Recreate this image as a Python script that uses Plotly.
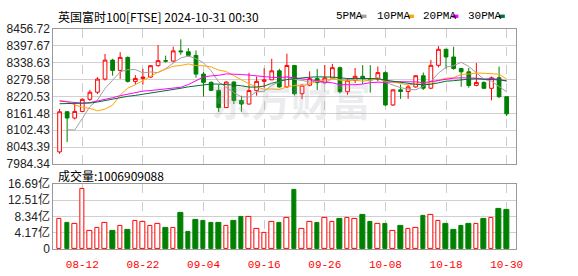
import plotly.graph_objects as go

# ---------------- data ----------------
dates = ["08-07", "08-08", "08-09", "08-12", "08-13", "08-14", "08-15", "08-16", "08-19", "08-20",
         "08-21", "08-22", "08-23", "08-27", "08-28", "08-29", "08-30", "09-02", "09-03", "09-04",
         "09-05", "09-06", "09-09", "09-10", "09-11", "09-12", "09-13", "09-16", "09-17", "09-18",
         "09-19", "09-20", "09-23", "09-24", "09-25", "09-26", "09-27", "09-30", "10-01", "10-02",
         "10-03", "10-04", "10-07", "10-08", "10-09", "10-10", "10-11", "10-14", "10-15", "10-16",
         "10-17", "10-18", "10-21", "10-22", "10-23", "10-24", "10-25", "10-28", "10-29", "10-30"]

open_ = [8026.7, 8166.9, 8145.0, 8168.1, 8210.3, 8235.2, 8281.1, 8347.4, 8311.4, 8356.9,
         8273.1, 8283.4, 8288.0, 8327.8, 8345.5, 8343.9, 8379.6, 8376.6, 8363.8, 8298.5,
         8269.6, 8241.7, 8181.5, 8270.8, 8206.0, 8193.9, 8241.0, 8273.1, 8278.4, 8309.9,
         8253.7, 8328.7, 8230.0, 8259.7, 8282.8, 8268.7, 8284.9, 8320.8, 8237.0, 8276.7,
         8290.9, 8282.5, 8280.6, 8303.6, 8190.6, 8243.5, 8237.7, 8253.7, 8292.7, 8249.3,
         8329.1, 8385.1, 8358.3, 8318.2, 8306.5, 8258.9, 8269.4, 8248.8, 8285.7, 8219.6]
high = [8177, 8170, 8201, 8214, 8244, 8288, 8369, 8352, 8375, 8360,
        8295, 8317, 8330, 8400, 8363, 8394, 8420, 8389, 8381, 8306,
        8273, 8262, 8273, 8273, 8223, 8303, 8290, 8319, 8352, 8317,
        8370, 8330, 8262, 8308, 8317, 8330, 8334, 8325, 8284, 8320,
        8330, 8330, 8325, 8308, 8246, 8262, 8262, 8295, 8304, 8348,
        8396, 8387, 8394, 8320, 8320, 8337, 8273, 8290, 8325, 8221]
low = [8020, 8061, 8140, 8165, 8205, 8229, 8276, 8293, 8282, 8269,
       8262, 8262, 8286, 8325, 8339, 8340, 8366, 8359, 8286, 8220,
       8240, 8166, 8180, 8194, 8167, 8192, 8223, 8251, 8278, 8251,
       8250, 8224, 8211, 8256, 8243, 8265, 8282, 8231, 8226, 8267,
       8264, 8234, 8273, 8187, 8187, 8212, 8212, 8251, 8243, 8246,
       8322, 8317, 8314, 8254, 8251, 8256, 8246, 8207, 8215, 8152]
close = [8166.9, 8145.0, 8168.1, 8210.3, 8235.2, 8281.1, 8347.4, 8311.4, 8356.9, 8273.1,
         8283.4, 8288.0, 8327.8, 8345.5, 8343.9, 8379.6, 8376.6, 8363.8, 8298.5, 8269.6,
         8241.7, 8181.5, 8270.8, 8206.0, 8193.9, 8241.0, 8273.1, 8278.4, 8309.9, 8253.7,
         8328.7, 8230.0, 8259.7, 8282.8, 8268.7, 8284.9, 8320.8, 8237.0, 8276.7, 8290.9,
         8282.5, 8280.6, 8303.6, 8190.6, 8243.5, 8237.7, 8253.7, 8292.7, 8249.3, 8329.1,
         8385.1, 8358.3, 8318.2, 8306.5, 8258.9, 8269.4, 8248.8, 8285.7, 8219.6, 8159.6]

volume = [762000000, 682000000, 650000000, 1548000000, 457000000, 537000000, 674000000, 465000000, 585000000, 489000000,
          730000000, 706000000, 585000000, 634000000, 545000000, 537000000, 930000000, 441000000, 738000000, 714000000,
          666000000, 682000000, 585000000, 714000000, 826000000, 826000000, 513000000, 417000000, 706000000, 682000000,
          802000000, 1508000000, 513000000, 706000000, 682000000, 802000000, 706000000, 778000000, 802000000, 778000000,
          874000000, 706000000, 634000000, 634000000, 465000000, 585000000, 513000000, 537000000, 850000000, 874000000,
          730000000, 634000000, 489000000, 585000000, 634000000, 658000000, 778000000, 802000000, 1019000000, 1006909088]

ma5 = [None, 8104.3, 8103.0, 8143.4, 8185.1, 8207.9, 8248.4, 8277.1, 8306.4, 8314.0,
       8314.4, 8302.6, 8305.9, 8303.6, 8317.7, 8337.0, 8354.7, 8361.9, 8352.5, 8337.6,
       8310.0, 8271.0, 8252.4, 8233.9, 8218.8, 8218.6, 8237.0, 8238.5, 8259.3, 8271.2,
       8288.8, 8280.1, 8276.4, 8271.0, 8274.0, 8265.2, 8283.4, 8278.8, 8277.6, 8282.0,
       8281.6, 8273.5, 8286.9, 8269.7, 8260.2, 8251.2, 8245.8, 8243.6, 8255.4, 8272.5,
       8302.0, 8322.9, 8328.0, 8339.5, 8325.4, 8302.3, 8280.4, 8273.9, 8256.5, 8236.6]
ma10 = [8206.7, 8202.5, 8190.8, 8182.6, 8178.6, 8170.0, 8176.4, 8190.0, 8224.9, 8249.5,
        8261.2, 8275.5, 8291.5, 8305.0, 8315.8, 8325.7, 8328.6, 8333.9, 8328.0, 8327.7,
        8323.5, 8312.8, 8307.2, 8293.2, 8278.2, 8264.3, 8254.0, 8245.5, 8246.6, 8245.0,
        8253.7, 8258.6, 8257.4, 8265.1, 8272.6, 8277.0, 8281.8, 8277.6, 8274.3, 8278.0,
        8273.4, 8278.4, 8282.8, 8273.6, 8271.1, 8266.4, 8259.7, 8265.3, 8262.5, 8266.3,
        8276.6, 8284.4, 8285.8, 8297.4, 8298.9, 8302.1, 8301.6, 8300.9, 8298.0, 8281.0]
ma20 = [8204.0, 8201.0, 8198.0, 8197.0, 8199.0, 8204.0, 8209.0, 8216.0, 8223.0, 8228.0,
        8233.9, 8239.0, 8241.1, 8243.8, 8247.2, 8247.8, 8252.5, 8262.0, 8276.5, 8288.6,
        8292.3, 8294.2, 8299.3, 8299.1, 8297.0, 8295.0, 8291.3, 8289.7, 8287.3, 8286.3,
        8288.6, 8285.7, 8282.3, 8279.2, 8275.4, 8270.7, 8267.9, 8261.5, 8260.4, 8261.5,
        8263.5, 8268.5, 8270.1, 8269.4, 8271.9, 8271.7, 8270.7, 8271.4, 8268.4, 8272.2,
        8275.0, 8281.4, 8284.3, 8285.5, 8285.0, 8284.3, 8280.7, 8283.1, 8280.2, 8273.7]
ma30 = [8195.0, 8195.0, 8195.0, 8195.5, 8197.5, 8201.0, 8206.0, 8212.0, 8217.0, 8221.0,
        8224.0, 8228.0, 8231.0, 8235.0, 8239.0, 8244.0, 8249.0, 8254.0, 8257.5, 8261.0,
        8263.8, 8263.6, 8263.1, 8260.3, 8257.6, 8253.3, 8253.0, 8256.5, 8266.5, 8274.1,
        8279.5, 8282.3, 8285.4, 8287.8, 8288.9, 8289.0, 8288.1, 8285.6, 8283.0, 8283.6,
        8283.5, 8283.3, 8282.5, 8277.3, 8274.0, 8269.2, 8265.1, 8262.8, 8261.1, 8263.1,
        8267.9, 8273.8, 8275.4, 8278.7, 8280.9, 8281.8, 8281.0, 8281.3, 8278.3, 8275.1]

tick_dates = ["08-12", "08-22", "09-04", "09-16", "09-26", "10-08", "10-18", "10-30"]
price_ticks = [7984.34, 8043.39, 8102.43, 8161.48, 8220.53, 8279.58, 8338.63, 8397.67, 8456.72]
vol_ticks = [0, 417250000, 834500000, 1251750000, 1669000000]
vol_tick_text = ["0", "4.17亿", "8.34亿", "12.51亿", "16.69亿"]
ma_names = ["5PMA", "10PMA", "20PMA", "30PMA"]
title_text = "英国富时100[FTSE] 2024-10-31 00:30"
vol_label = "成交量"

# ---------------- style ----------------
W, H = 578, 276
RED = "#ff0000"
GREEN = "#008000"
ma_colors = ["#a0a0a0", "#ffa500", "#ff00ff", "#006f35"]
X0, X1 = 54, 522          # plot area left/right (px)
MAIN_T, MAIN_B = 22, 165  # main panel top/bottom (px)
VOL_T, VOL_B = 186, 255   # volume panel top/bottom (px)
NUM_FONT = "Liberation Sans, Noto Sans CJK SC, sans-serif"
MONO_FONT = "Liberation Mono, DejaVu Sans Mono, monospace"
CJK_FONT = "Noto Sans CJK SC, Liberation Sans, sans-serif"


def px_x(p):
    return p / W


def px_y(p):
    return 1 - p / H


fig = go.Figure()

# moving-average lines (drawn under the candles)
for name, vals, col in zip(ma_names, [ma5, ma10, ma20, ma30], ma_colors):
    fig.add_trace(go.Scatter(x=dates, y=vals, mode="lines", name=name,
                             line=dict(color=col, width=1), xaxis="x", yaxis="y",
                             hoverinfo="skip", connectgaps=False))

fig.add_trace(go.Candlestick(
    x=dates, open=open_, high=high, low=low, close=close,
    increasing=dict(line=dict(color=RED, width=1), fillcolor="#ffffff"),
    decreasing=dict(line=dict(color=GREEN, width=1), fillcolor=GREEN),
    whiskerwidth=0, xaxis="x", yaxis="y", name="FTSE"))

up = [c >= o for o, c in zip(open_, close)]
fig.add_trace(go.Bar(
    x=dates, y=volume, xaxis="x2", yaxis="y2", width=0.6,
    marker=dict(color=["#ffffff" if u else GREEN for u in up],
                line=dict(color=[RED if u else GREEN for u in up], width=1)),
    name="volume"))

grid_common = dict(showgrid=True, zeroline=False, showline=True, mirror=True,
                   linecolor="#999999", linewidth=1, ticks="", fixedrange=True)

fig.update_layout(
    width=W, height=H, margin=dict(l=0, r=0, t=0, b=0),
    paper_bgcolor="white", plot_bgcolor="white", showlegend=False,
    bargap=0,
    xaxis=dict(domain=[px_x(X0), px_x(X1)], anchor="y", type="category",
               range=[-0.82, 60.19], tickvals=tick_dates, showticklabels=False,
               gridcolor="#cccccc", griddash="dash", rangeslider=dict(visible=False),
               **grid_common),
    xaxis2=dict(domain=[px_x(X0), px_x(X1)], anchor="y2", type="category",
                range=[-0.82, 60.19], tickvals=tick_dates, ticktext=tick_dates,
                tickfont=dict(family=MONO_FONT, size=11, color=RED),
                ticklabelstandoff=5,
                gridcolor="#cccccc", griddash="dash", **grid_common),
    yaxis=dict(domain=[px_y(MAIN_B), px_y(MAIN_T)], anchor="x",
               range=[price_ticks[0], price_ticks[-1]], tickvals=price_ticks,
               ticktext=[f"{v:.2f}" for v in price_ticks],
               tickfont=dict(family=NUM_FONT, size=12, color="#222222"),
               gridcolor="#d0d0d0", **grid_common),
    yaxis2=dict(domain=[px_y(VOL_B), px_y(VOL_T)], anchor="x2",
                range=[0, vol_ticks[-1]], tickvals=vol_ticks, ticktext=vol_tick_text,
                tickfont=dict(family=NUM_FONT, size=12, color="#222222"),
                gridcolor="#d0d0d0", **grid_common),
)

annotations = [
    dict(x=px_x(57), y=px_y(8.5), xref="paper", yref="paper", xanchor="left", yanchor="middle",
         text=title_text, showarrow=False, font=dict(family=CJK_FONT, size=12, color="#000000")),
    dict(x=px_x(57), y=px_y(177.5), xref="paper", yref="paper", xanchor="left", yanchor="middle",
         text=f"{vol_label}:{volume[-1]}", showarrow=False,
         font=dict(family=CJK_FONT, size=12, color="#000000")),
    dict(x=px_x(295), y=px_y(96), xref="paper", yref="paper", xanchor="center", yanchor="middle",
         text="东方财富", showarrow=False,
         font=dict(family=CJK_FONT, size=40, color="rgba(170,170,185,0.22)", weight="bold")),
]

legend_text_x = [338, 380, 426, 472]
legend_box_x = [365, 413, 458, 505]
shapes = []
for name, col, tx, bx in zip(ma_names, ma_colors, legend_text_x, legend_box_x):
    annotations.append(dict(x=px_x(tx), y=px_y(8.5), xref="paper", yref="paper",
                            xanchor="left", yanchor="middle", text=name, showarrow=False,
                            font=dict(family=MONO_FONT, size=11, color="#000000")))
    shapes.append(dict(type="rect", xref="paper", yref="paper",
                       x0=px_x(bx), x1=px_x(bx + 6), y0=px_y(10.5), y1=px_y(7),
                       fillcolor=col, line=dict(width=0)))

fig.update_layout(annotations=annotations, shapes=shapes)

fig.write_html("out.html")
